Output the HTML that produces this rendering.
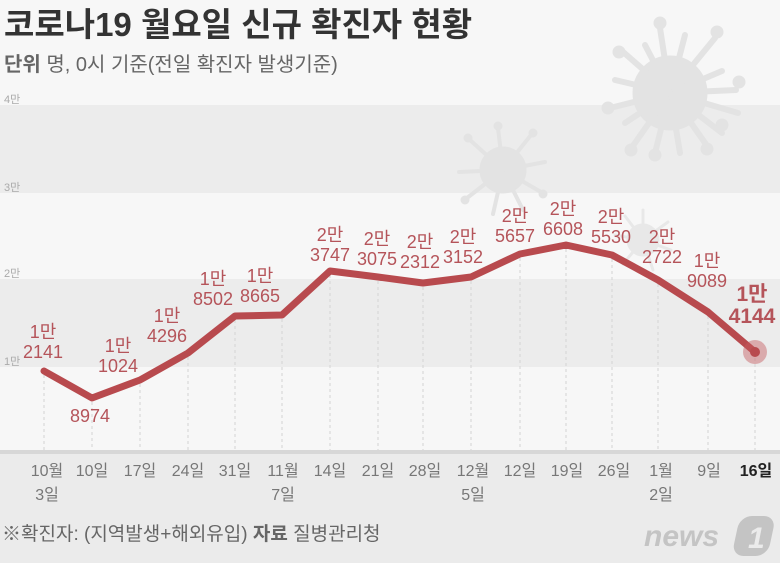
<!DOCTYPE html>
<html><head><meta charset="utf-8"><style>
html,body{margin:0;padding:0;background:#f7f7f7;}
svg{display:block;}
text{font-family:"Liberation Sans","Noto Sans CJK KR",sans-serif;}
</style></head><body>
<svg width="780" height="563" viewBox="0 0 780 563" xmlns="http://www.w3.org/2000/svg">
<rect x="0" y="0" width="780" height="563" fill="#f7f7f7"/>
<rect x="0" y="105" width="780" height="88" fill="#ececec"/>
<rect x="0" y="279" width="780" height="88" fill="#ececec"/>
<rect x="0" y="450" width="780" height="113" fill="#ebebeb"/>
<rect x="0" y="450" width="780" height="4" fill="#d7d7d7"/>
<!-- viruses -->
<g fill="#e3e3e3" stroke="#e3e3e3" stroke-linecap="round">
 <g transform="translate(670,93)">
  <circle r="37"/>
  <g stroke-width="6">
   <line x1="0" y1="0" x2="-10" y2="-65"/><line x1="0" y1="0" x2="15" y2="-58"/>
   <line x1="0" y1="0" x2="45" y2="-55"/><line x1="0" y1="0" x2="52" y2="-22"/>
   <line x1="0" y1="0" x2="66" y2="-3"/><line x1="0" y1="0" x2="68" y2="20"/>
   <line x1="0" y1="0" x2="52" y2="40"/><line x1="0" y1="0" x2="40" y2="57"/>
   <line x1="0" y1="0" x2="10" y2="60"/><line x1="0" y1="0" x2="-15" y2="60"/>
   <line x1="0" y1="0" x2="-40" y2="57"/><line x1="0" y1="0" x2="-45" y2="30"/>
   <line x1="0" y1="0" x2="-60" y2="15"/><line x1="0" y1="0" x2="-55" y2="-13"/>
   <line x1="0" y1="0" x2="-48" y2="-42"/><line x1="0" y1="0" x2="-25" y2="-48"/>
  </g>
  <circle cx="-10" cy="-70" r="6"/><circle cx="47" cy="-61" r="6"/><circle cx="69" cy="-11" r="6"/>
  <circle cx="52" cy="32" r="6"/><circle cx="37" cy="56" r="6"/><circle cx="-15" cy="62" r="6"/>
  <circle cx="-39" cy="57" r="6"/><circle cx="-62" cy="15" r="6"/><circle cx="-51" cy="-41" r="6"/>
 </g>
 <g transform="translate(503,170)">
  <circle r="23"/>
  <g stroke-width="4">
   <line x1="0" y1="0" x2="-5" y2="-42"/><line x1="0" y1="0" x2="28" y2="-35"/>
   <line x1="0" y1="0" x2="42" y2="-8"/><line x1="0" y1="0" x2="38" y2="22"/>
   <line x1="0" y1="0" x2="20" y2="40"/><line x1="0" y1="0" x2="-10" y2="44"/>
   <line x1="0" y1="0" x2="-36" y2="28"/><line x1="0" y1="0" x2="-44" y2="2"/>
   <line x1="0" y1="0" x2="-33" y2="-30"/>
  </g>
  <circle cx="-5" cy="-44" r="4"/><circle cx="30" cy="-37" r="4"/><circle cx="40" cy="24" r="4"/>
  <circle cx="-38" cy="30" r="4"/><circle cx="-35" cy="-32" r="4"/>
 </g>
 <g transform="translate(643,240)" opacity="0.7">
  <circle r="16"/>
  <g stroke-width="3">
   <line x1="0" y1="0" x2="0" y2="-30"/><line x1="0" y1="0" x2="25" y2="-18"/>
   <line x1="0" y1="0" x2="28" y2="10"/><line x1="0" y1="0" x2="10" y2="30"/>
   <line x1="0" y1="0" x2="-20" y2="24"/><line x1="0" y1="0" x2="-28" y2="-5"/>
   <line x1="0" y1="0" x2="-18" y2="-24"/>
  </g>
 </g>
</g>
<!-- y labels -->
<g font-size="11" fill="#aaaaaa">
 <text x="4" y="103">4만</text><text x="4" y="191">3만</text>
 <text x="4" y="277">2만</text><text x="4" y="365">1만</text>
</g>
<!-- dotted verticals -->
<g stroke="#d3d3d3" stroke-width="1" stroke-dasharray="3,3">
 <line x1="44" y1="375" x2="44" y2="450"/><line x1="92" y1="402" x2="92" y2="450"/>
 <line x1="140" y1="384" x2="140" y2="450"/><line x1="188" y1="357" x2="188" y2="450"/>
 <line x1="235" y1="320" x2="235" y2="450"/><line x1="282" y1="319" x2="282" y2="450"/>
 <line x1="330" y1="275" x2="330" y2="450"/><line x1="378" y1="281" x2="378" y2="450"/>
 <line x1="423" y1="287" x2="423" y2="450"/><line x1="471" y1="281" x2="471" y2="450"/>
 <line x1="520" y1="258" x2="520" y2="450"/><line x1="566" y1="249" x2="566" y2="450"/>
 <line x1="612" y1="259" x2="612" y2="450"/><line x1="658" y1="284" x2="658" y2="450"/>
 <line x1="708" y1="316" x2="708" y2="450"/><line x1="755" y1="358" x2="755" y2="450"/>
</g>
<!-- line -->
<polyline fill="none" stroke="#b84a4e" stroke-width="7" stroke-linejoin="round" stroke-linecap="round"
 points="44,371 92,398 140,380 188,353 235,316 282,315 330,271 378,277 423,283 471,277 520,254 566,245 612,255 658,280 708,312 755,352"/>
<circle cx="755" cy="352" r="12" fill="#c65a60" fill-opacity="0.45"/>
<circle cx="755" cy="352" r="5" fill="#b84a4e"/>
<!-- data labels -->
<g font-size="18" fill="#b5545a" text-anchor="middle">
 <text x="43" y="338">1만</text><text x="43" y="358">2141</text>
 <text x="90" y="422">8974</text>
 <text x="118" y="352">1만</text><text x="118" y="372">1024</text>
 <text x="167" y="322">1만</text><text x="167" y="342">4296</text>
 <text x="213" y="285">1만</text><text x="213" y="305">8502</text>
 <text x="260" y="282">1만</text><text x="260" y="302">8665</text>
 <text x="330" y="241">2만</text><text x="330" y="261">3747</text>
 <text x="377" y="245">2만</text><text x="377" y="265">3075</text>
 <text x="420" y="248">2만</text><text x="420" y="268">2312</text>
 <text x="463" y="243">2만</text><text x="463" y="263">3152</text>
 <text x="515" y="222">2만</text><text x="515" y="242">5657</text>
 <text x="563" y="215">2만</text><text x="563" y="235">6608</text>
 <text x="611" y="223">2만</text><text x="611" y="243">5530</text>
 <text x="662" y="243">2만</text><text x="662" y="263">2722</text>
 <text x="707" y="267">1만</text><text x="707" y="287">9089</text>
 <text x="752" y="301" font-size="21" font-weight="bold">1만</text><text x="752" y="323" font-size="21" font-weight="bold">4144</text>
</g>
<!-- x labels -->
<g font-size="16" fill="#777" text-anchor="middle">
 <text x="47" y="476">10월</text><text x="47" y="500">3일</text>
 <text x="92" y="476">10일</text><text x="140" y="476">17일</text>
 <text x="188" y="476">24일</text><text x="235" y="476">31일</text>
 <text x="283" y="476">11월</text><text x="283" y="500">7일</text>
 <text x="330" y="476">14일</text><text x="378" y="476">21일</text>
 <text x="425" y="476">28일</text>
 <text x="473" y="476">12월</text><text x="473" y="500">5일</text>
 <text x="520" y="476">12일</text><text x="567" y="476">19일</text>
 <text x="614" y="476">26일</text>
 <text x="661" y="476">1월</text><text x="661" y="500">2일</text>
 <text x="709" y="476">9일</text>
 <text x="756" y="476" fill="#222" font-weight="bold">16일</text>
</g>
<!-- title -->
<text x="4" y="36" font-size="33" font-weight="bold" fill="#333">코로나19 월요일 신규 확진자 현황</text>
<text x="4" y="71" font-size="20" fill="#666"><tspan font-weight="bold">단위</tspan>  명, 0시 기준(전일 확진자 발생기준)</text>
<!-- footer -->
<text x="2" y="540" font-size="19" fill="#666">※확진자: (지역발생+해외유입)  <tspan font-weight="bold">자료</tspan> 질병관리청</text>
<text x="644" y="546" font-size="30" font-weight="bold" font-style="italic" fill="#c4c4c4">news</text>
<g transform="translate(740,516) skewX(-12)">
 <rect x="0" y="0" width="36" height="40" rx="12" fill="#c4c4c4"/>
</g>
<text x="748" y="548" font-size="30" font-weight="bold" font-style="italic" fill="#ebebeb">1</text>
</svg>
</body></html>
